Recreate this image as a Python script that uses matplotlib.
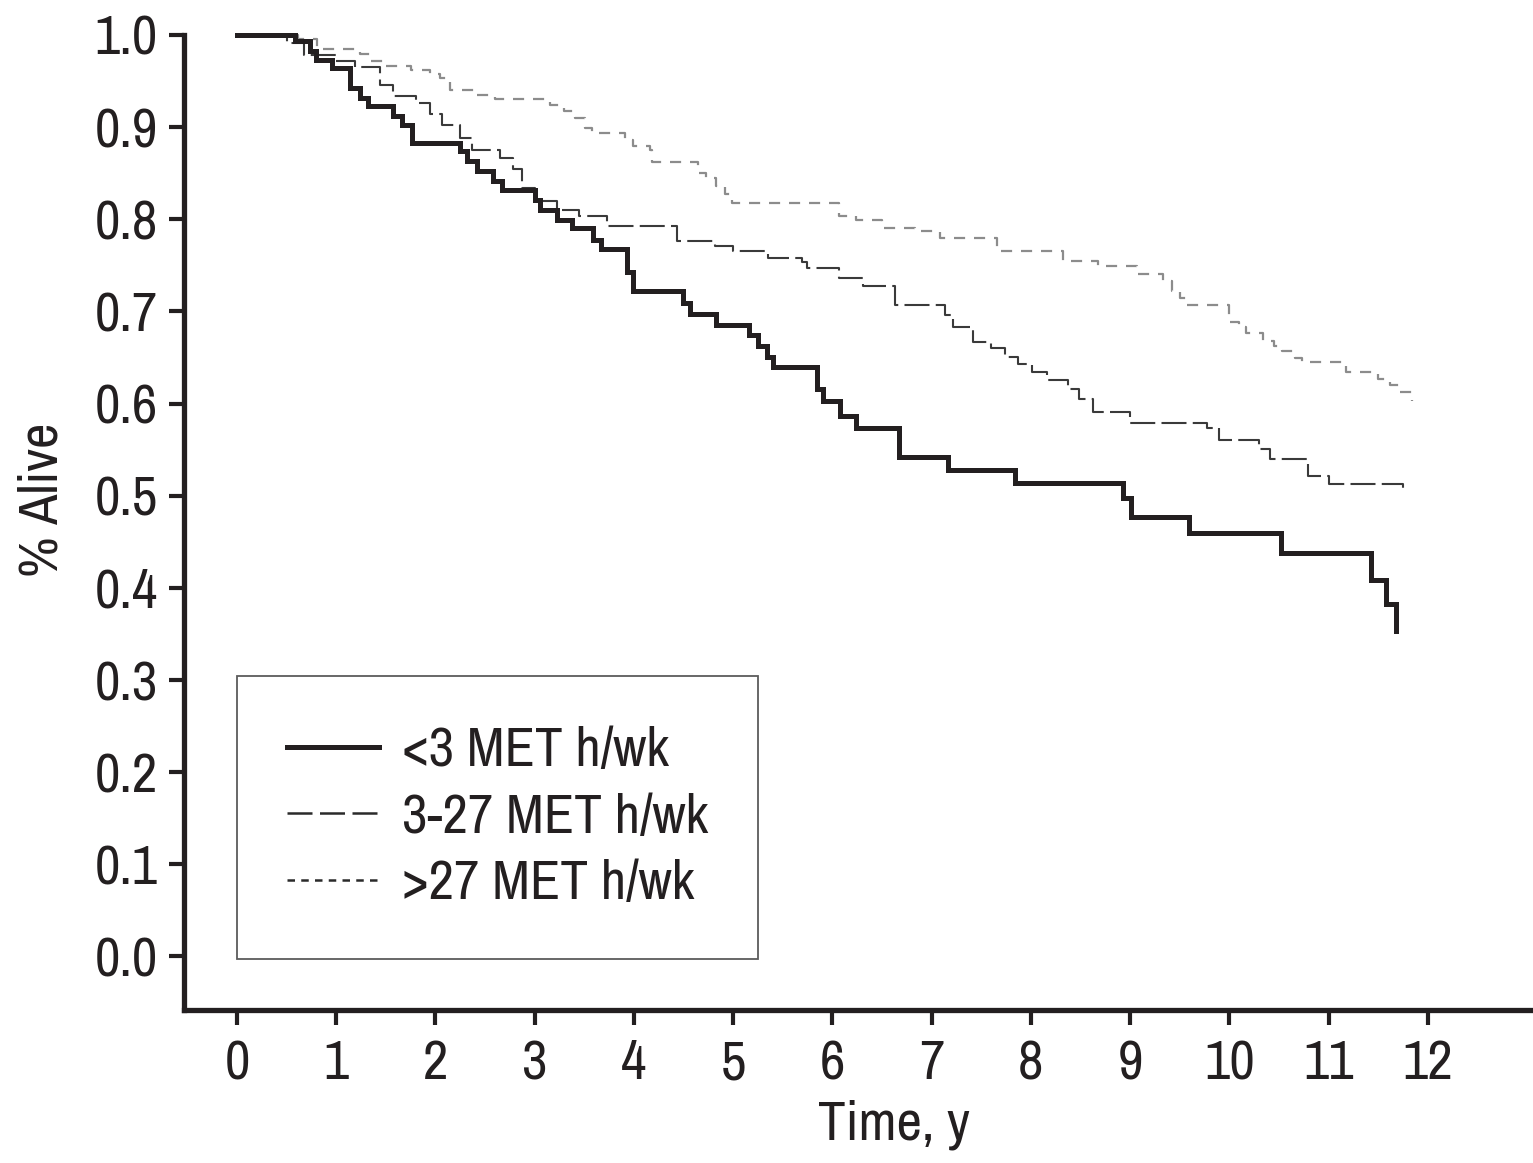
import matplotlib
matplotlib.use("AGG")
import matplotlib.pyplot as plt
from matplotlib import font_manager
from matplotlib.lines import Line2D
import numpy as np

# prefer a narrow / condensed sans; otherwise shrink the regular one a bit
fonts = font_manager.fontManager.ttflist
narrow = [f for f in fonts if ("Narrow" in f.name or "Condensed" in f.name)
          and f.style == "normal"]
condensed = [f for f in fonts if f.stretch in ("condensed", "semi-condensed")
             and f.style == "normal"
             and f.name in ("Liberation Sans", "DejaVu Sans", "Roboto", "Open Sans", "Noto Sans")]
fs = 40
if narrow:
    plt.rcParams["font.family"] = narrow[0].name
elif condensed:
    plt.rcParams["font.family"] = condensed[0].name
    plt.rcParams["font.stretch"] = condensed[0].stretch
    fs = 36
else:
    plt.rcParams["font.family"] = "Liberation Sans"
    fs = 34

ink = "#231f20"

# Kaplan-Meier survival by activity group (time in years, fraction alive)
t_low = [0, 0.58, 0.74, 0.80, 0.96, 1.14, 1.24, 1.32, 1.57, 1.66, 1.76, 2.25, 2.32, 2.42,
         2.58, 2.67, 3.00, 3.05, 3.23, 3.38, 3.59, 3.67, 3.93, 3.99, 4.49, 4.57, 4.83,
         5.16, 5.25, 5.34, 5.40, 5.84, 5.91, 6.08, 6.24, 6.67, 7.17, 7.84, 8.93, 9.01,
         9.59, 10.52, 11.43, 11.58, 11.68]
s_low = [1.0, 0.993, 0.983, 0.973, 0.964, 0.942, 0.932, 0.923, 0.912, 0.902, 0.883, 0.874,
         0.863, 0.852, 0.841, 0.832, 0.821, 0.810, 0.799, 0.790, 0.777, 0.768, 0.743, 0.722,
         0.709, 0.697, 0.685, 0.674, 0.662, 0.650, 0.640, 0.616, 0.603, 0.587, 0.573, 0.542,
         0.528, 0.514, 0.497, 0.477, 0.460, 0.438, 0.409, 0.383, 0.353]

t_mid = [0, 0.50, 0.68, 1.00, 1.19, 1.44, 1.57, 1.80, 1.95, 2.07, 2.25, 2.37, 2.65, 2.78,
         2.87, 3.00, 3.23, 3.45, 3.73, 4.43, 4.82, 5.00, 5.35, 5.69, 5.74, 6.07, 6.31, 6.63,
         7.13, 7.22, 7.42, 7.60, 7.74, 7.87, 8.01, 8.16, 8.37, 8.49, 8.63, 9.00, 9.77, 9.90,
         10.30, 10.41, 10.79, 11.00, 11.75]
s_mid = [1.0, 0.991, 0.978, 0.972, 0.965, 0.946, 0.934, 0.926, 0.914, 0.902, 0.888, 0.875,
         0.866, 0.855, 0.834, 0.820, 0.810, 0.804, 0.793, 0.776, 0.771, 0.765, 0.758, 0.754,
         0.747, 0.736, 0.727, 0.707, 0.696, 0.683, 0.667, 0.660, 0.651, 0.643, 0.634, 0.625,
         0.616, 0.605, 0.591, 0.579, 0.573, 0.560, 0.551, 0.540, 0.521, 0.513, 0.508]

t_high = [0, 0.62, 0.81, 1.24, 1.34, 1.49, 1.75, 1.95, 2.05, 2.15, 2.40, 2.60, 3.15, 3.30,
          3.41, 3.51, 3.58, 3.91, 3.99, 4.16, 4.18, 4.65, 4.73, 4.83, 4.92, 4.99, 6.07, 6.24,
          6.50, 6.83, 7.08, 7.66, 8.32, 8.68, 9.07, 9.33, 9.42, 9.50, 9.57, 10.00, 10.10,
          10.17, 10.34, 10.45, 10.53, 10.66, 10.73, 11.18, 11.50, 11.62, 11.72, 11.84]
s_high = [1.0, 0.995, 0.985, 0.979, 0.972, 0.966, 0.962, 0.958, 0.953, 0.940, 0.935, 0.930,
          0.924, 0.917, 0.910, 0.899, 0.894, 0.886, 0.879, 0.875, 0.862, 0.850, 0.845, 0.836,
          0.827, 0.818, 0.804, 0.799, 0.791, 0.787, 0.780, 0.765, 0.755, 0.749, 0.741, 0.733,
          0.722, 0.714, 0.707, 0.689, 0.683, 0.676, 0.668, 0.662, 0.657, 0.649, 0.645, 0.634,
          0.627, 0.620, 0.613, 0.603]

labels = ["<3 MET h/wk", "3-27 MET h/wk", ">27 MET h/wk"]
x_ticks = np.arange(0, 13)
y_ticks = np.round(np.arange(0, 1.01, 0.1), 1)

fig = plt.figure(figsize=(15.33, 11.63), dpi=100)
ax = fig.add_axes([0.120, 0.1316, 0.880, 0.8384])

ax.step(t_high, s_high, where="post", color="#8c8c8c", lw=1.6,
        linestyle=(0, (5, 4)), clip_on=False, zorder=2)
ax.step(t_mid, s_mid, where="post", color="#3a3a3a", lw=1.5,
        linestyle=(0, (12, 3)), clip_on=False, zorder=3)
ax.step(t_low, s_low, where="post", color=ink, lw=3.6,
        solid_joinstyle="miter", clip_on=False, zorder=4)

ax.set_xlim(-0.534, 13.06)
ax.set_ylim(-0.058, 1.0)
ax.set_xticks(x_ticks)
ax.set_yticks(y_ticks)
ax.set_yticklabels(["%.1f" % v for v in y_ticks])

for side in ["top", "right"]:
    ax.spines[side].set_visible(False)
for side in ["left", "bottom"]:
    ax.spines[side].set_linewidth(3.8)
    ax.spines[side].set_color(ink)

ax.tick_params(axis="both", direction="out", length=11, width=3, color=ink,
               labelsize=fs, labelcolor=ink)
ax.tick_params(axis="y", pad=8)
ax.tick_params(axis="x", pad=10)

ax.set_xlabel("Time, y", fontsize=fs, color=ink)
ax.set_ylabel("% Alive", fontsize=fs, color=ink)
ax.xaxis.set_label_coords(0.526, -0.092)
ax.yaxis.set_label_coords(-0.086, 0.523)

handles = [
    Line2D([], [], color=ink, lw=3.6),
    Line2D([], [], color="#2a2a2a", lw=1.8, linestyle=(0, (10, 3))),
    Line2D([], [], color="#2a2a2a", lw=1.8, linestyle=(0, (3, 2.5))),
]
leg = ax.legend(handles, labels, loc="lower left", bbox_to_anchor=(0.0395, 0.0518),
                fontsize=fs, frameon=True, fancybox=False, borderpad=0.9,
                handlelength=1.65, handletextpad=0.42, labelspacing=0.3,
                borderaxespad=0)
leg.get_frame().set_edgecolor("#333333")
leg.get_frame().set_linewidth(1.3)
for txt in leg.get_texts():
    txt.set_color(ink)

plt.savefig("out.png", dpi=100)
